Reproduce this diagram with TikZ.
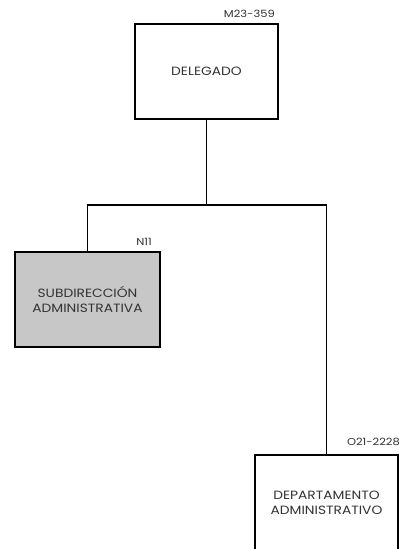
\documentclass[tikz,border=0pt]{standalone}
\usepackage{fontspec}
\setmainfont{Poppins}[FakeStretch=1.15]
\begin{document}
\begin{tikzpicture}[x=1pt,y=-1pt,
  orgbox/.style={draw=black,line width=1.4pt,minimum width=143pt,minimum height=95pt,inner sep=0pt,
    align=center,text=black!80,font=\fontsize{12}{15}\selectfont},
  codelbl/.style={text=black!80,font=\fontsize{10}{11}\selectfont,inner sep=0pt},
  conn/.style={line width=1.4pt,draw=black}]
\clip (0,0) rectangle (400,549);
\fill[white] (0,0) rectangle (400,549);
\node[orgbox] (del) at (206.5,71.5) {DELEGADO};
\node[orgbox,fill=black!22,minimum width=145pt] (sub) at (87.5,299.5) {SUBDIRECCIÓN\\ADMINISTRATIVA};
\node[orgbox] (dep) at (326.5,502.5) {DEPARTAMENTO\\ADMINISTRATIVO};
\node[codelbl,anchor=base east] (l1) at (275,17) {M23-359};
\node[codelbl,anchor=base east] (l2) at (152,245) {N11};
\node[codelbl,anchor=base east] (l3) at (400,445) {O21-2228};
\coordinate (j) at (del.south |- 0,205);
\draw[conn] (del.south) -- (j);
\draw[conn] (sub.north) |- (j) -| (dep.north);
\end{tikzpicture}
\end{document}
